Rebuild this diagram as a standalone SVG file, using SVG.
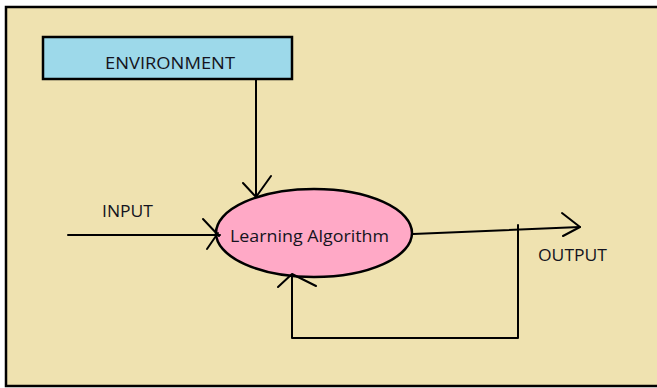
<svg xmlns="http://www.w3.org/2000/svg" width="657" height="388" viewBox="0 0 657 388">
  <style>
    .ln { stroke: #000; stroke-width: 2; fill: none; stroke-linecap: round; stroke-linejoin: round; }
    .lbl { font-family: "Open Sans", "Liberation Sans", sans-serif; font-size: 17px; fill: #141420; }
  </style>
  <rect width="657" height="388" fill="#ffffff"/>
  <!-- outer frame -->
  <rect x="6" y="7" width="660" height="379" fill="#efe2b0" stroke="#000" stroke-width="2.5"/>

  <g id="environment">
    <rect x="43" y="37" width="249" height="42" fill="#9dd9ea" stroke="#000" stroke-width="2.5"/>
    <text class="lbl" x="105" y="69" textLength="130" lengthAdjust="spacingAndGlyphs">ENVIRONMENT</text>
  </g>

  <g id="learning-algorithm">
    <ellipse cx="314" cy="233" rx="98" ry="44" fill="#ffa9c6" stroke="#000" stroke-width="2.5"/>
    <text class="lbl" x="230" y="242" font-size="18" textLength="159" lengthAdjust="spacingAndGlyphs">Learning Algorithm</text>
  </g>

  <g id="input-label">
    <text class="lbl" x="102" y="217" textLength="51" lengthAdjust="spacingAndGlyphs">INPUT</text>
  </g>

  <g id="output-label">
    <text class="lbl" x="538" y="261" textLength="69" lengthAdjust="spacingAndGlyphs">OUTPUT</text>
  </g>

  <g id="connectors">
    <!-- environment to algorithm -->
    <path class="ln" d="M256 79 V197"/>
    <path class="ln" d="M243 183 L256 197 L271 176"/>
    <!-- input -->
    <path class="ln" d="M68 235 H220"/>
    <path class="ln" d="M203 219 L219 236 M207 249 L218 233"/>
    <!-- output -->
    <path class="ln" d="M413 234 L580 227"/>
    <path class="ln" d="M562 213 L580 227 L563 236"/>
    <!-- feedback loop -->
    <path class="ln" d="M518 225 V338 H292 V275"/>
    <path class="ln" d="M278 287 L292 274 L316 286"/>
  </g>
</svg>
